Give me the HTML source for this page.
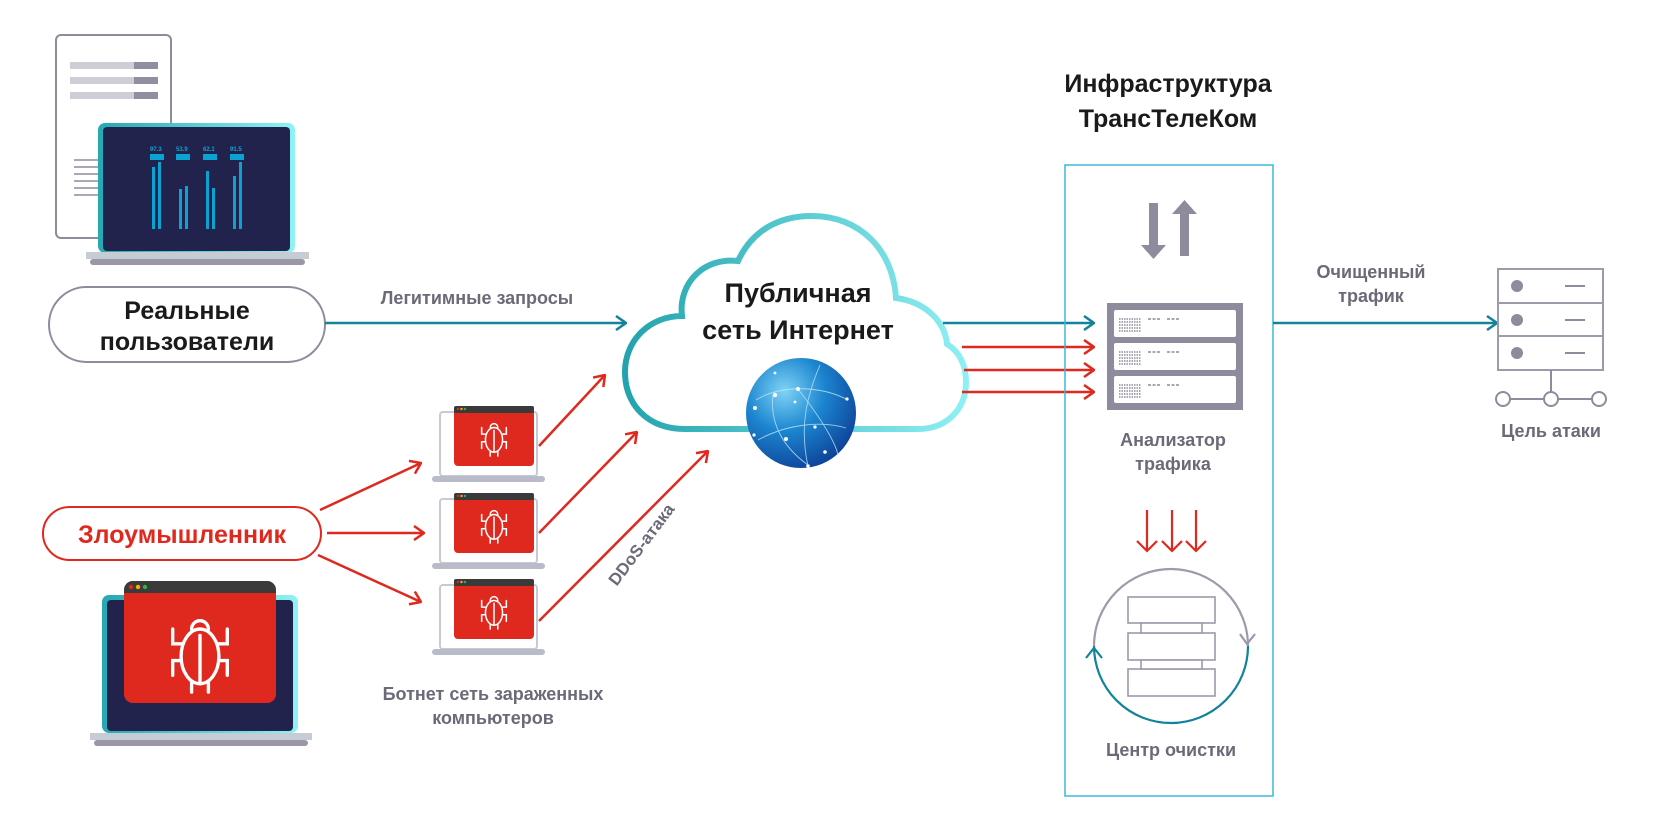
<!DOCTYPE html>
<html><head><meta charset="utf-8"><style>
html,body{margin:0;padding:0;background:#fff;}
svg{display:block;}
text{font-family:"Liberation Sans","Noto Sans CJK SC",sans-serif;font-weight:bold;}
</style></head><body>
<svg width="1680" height="824" viewBox="0 0 1680 824" xmlns="http://www.w3.org/2000/svg">
<defs>
<linearGradient id="cg" x1="0" x2="1" y1="0" y2="0"><stop offset="0" stop-color="#23a3ad"/><stop offset="1" stop-color="#8ef0f4"/></linearGradient>
<linearGradient id="lg" x1="0" x2="1"><stop offset="0" stop-color="#26a7b4"/><stop offset="1" stop-color="#8ff3f6"/></linearGradient>
<radialGradient id="gl" cx="0.35" cy="0.3" r="0.8"><stop offset="0" stop-color="#7fd3f5"/><stop offset="0.45" stop-color="#1c86d0"/><stop offset="1" stop-color="#0c3a92"/></radialGradient>
<marker id="at" viewBox="0 0 12 16" refX="11" refY="8" markerWidth="12" markerHeight="16" markerUnits="userSpaceOnUse" orient="auto"><path d="M1 1 L11 8 L1 15" fill="none" stroke="#13829b" stroke-width="2.5"/></marker>
<marker id="ar" viewBox="0 0 12 16" refX="11" refY="8" markerWidth="12" markerHeight="16" markerUnits="userSpaceOnUse" orient="auto"><path d="M1 1 L11 8 L1 15" fill="none" stroke="#e0291e" stroke-width="2.5"/></marker>
<g id="bug" fill="none" stroke="#fff" stroke-width="1.6" stroke-linecap="round">
<ellipse cx="0" cy="4" rx="9" ry="13"/><path d="M-4 -9 a4 4 0 0 1 8 0"/><path d="M0 -6 V17"/>
<path d="M-9 -2 H-13 V-9 M9 -2 H13 V-9 M-9 6 H-13 V13 M9 6 H13 V13 M-4 16 V21 M4 16 V21"/>
</g>
<g id="bot">
<rect x="0" y="0" width="97" height="64" rx="3" fill="#fff" stroke="#c7cad4" stroke-width="2"/>
<rect x="-8" y="64" width="113" height="6" rx="3" fill="#b9bcc8"/>
<rect x="14" y="-6" width="80" height="60" rx="4" fill="#e0291e"/>
<rect x="14" y="-6" width="80" height="7" rx="2" fill="#3a3a3a"/>
<circle cx="18" cy="-3" r="1.2" fill="#e0291e"/><circle cx="21.5" cy="-3" r="1.2" fill="#f0b400"/><circle cx="25" cy="-3" r="1.2" fill="#2db24a"/>
<use href="#bug" transform="translate(54,24) scale(0.95)"/>
</g>
</defs>

<!-- document sheet -->
<rect x="56" y="35" width="115" height="203" rx="5" fill="#fff" stroke="#8e8c9c" stroke-width="2"/>
<g fill="#cfcdd6"><rect x="70" y="62" width="64" height="7"/><rect x="70" y="77" width="64" height="7"/><rect x="70" y="92" width="64" height="7"/></g>
<g fill="#908ea0"><rect x="134" y="62" width="24" height="7"/><rect x="134" y="77" width="24" height="7"/><rect x="134" y="92" width="24" height="7"/></g>
<g stroke="#8e8c9c" stroke-width="1.5"><path d="M74 160H100M74 167H100M74 174H100M74 181H100M74 188H100M74 195H100"/></g>
<!-- top laptop -->
<rect x="98" y="123" width="197" height="130" rx="7" fill="url(#lg)"/>
<rect x="103" y="127" width="187" height="124" rx="4" fill="#22234c"/>
<rect x="86" y="252" width="223" height="7" fill="#c6ccd4"/>
<rect x="90" y="259" width="215" height="6" rx="3" fill="#9a98a8"/>
<g fill="#0aa3d4">
<rect x="150" y="154" width="14" height="6"/><rect x="176" y="154" width="14" height="6"/><rect x="203" y="154" width="14" height="6"/><rect x="230" y="154" width="14" height="6"/>
<rect x="152" y="167" width="3" height="62"/><rect x="158" y="162" width="3" height="67"/>
<rect x="179" y="189" width="3" height="40"/><rect x="185" y="186" width="3" height="43"/>
<rect x="206" y="171" width="3" height="58"/><rect x="212" y="188" width="3" height="41"/>
<rect x="233" y="176" width="3" height="53"/><rect x="239" y="162" width="3" height="67"/>
</g>
<g fill="#0aa3d4" font-size="6" font-weight="normal"><text x="150" y="151">97.3</text><text x="176" y="151">53.9</text><text x="203" y="151">62.1</text><text x="230" y="151">91.5</text></g>

<!-- real users pill -->
<rect x="49" y="287" width="276" height="75" rx="37.5" fill="#fff" stroke="#8e8c9c" stroke-width="2"/>
<text x="187" y="319" text-anchor="middle" font-size="25" fill="#1a1a1a">Реальные</text>
<text x="187" y="350" text-anchor="middle" font-size="25" fill="#1a1a1a">пользователи</text>
<text x="477" y="304" text-anchor="middle" font-size="18" fill="#6b6a78">Легитимные запросы</text>
<line x1="325" y1="323" x2="626" y2="323" stroke="#13829b" stroke-width="2.5" marker-end="url(#at)"/>

<!-- attacker pill -->
<rect x="43" y="507" width="278" height="53" rx="26.5" fill="#fff" stroke="#e0291e" stroke-width="2"/>
<text x="182" y="543" text-anchor="middle" font-size="25" fill="#e0291e">Злоумышленник</text>
<g stroke="#e0291e" stroke-width="2.5" fill="none">
<line x1="320" y1="510" x2="421" y2="463" marker-end="url(#ar)"/>
<line x1="327" y1="533" x2="424" y2="533" marker-end="url(#ar)"/>
<line x1="318" y1="555" x2="421" y2="602" marker-end="url(#ar)"/>
<line x1="539" y1="446" x2="605" y2="375" marker-end="url(#ar)"/>
<line x1="539" y1="533" x2="637" y2="432" marker-end="url(#ar)"/>
<line x1="539" y1="621" x2="708" y2="451" marker-end="url(#ar)"/>
</g>

<!-- attacker laptop -->
<rect x="102" y="595" width="196" height="138" rx="7" fill="url(#lg)"/>
<rect x="107" y="600" width="186" height="131" rx="4" fill="#22234c"/>
<rect x="90" y="733" width="222" height="7" fill="#c6ccd4"/>
<rect x="94" y="740" width="214" height="6" rx="3" fill="#9a98a8"/>
<rect x="124" y="581" width="152" height="122" rx="9" fill="#e0291e"/>
<path d="M124 593 V590 a9 9 0 0 1 9 -9 H267 a9 9 0 0 1 9 9 V593 Z" fill="#3a3a3a"/>
<circle cx="131" cy="587" r="2.2" fill="#e0291e"/><circle cx="138" cy="587" r="2.2" fill="#f0b400"/><circle cx="145" cy="587" r="2.2" fill="#2db24a"/>
<use href="#bug" transform="translate(200,648) scale(2.1)"/>

<!-- bots -->
<use href="#bot" transform="translate(440,412)"/>
<use href="#bot" transform="translate(440,499)"/>
<use href="#bot" transform="translate(440,585)"/>
<text x="493" y="700" text-anchor="middle" font-size="18" fill="#6b6a78">Ботнет сеть зараженных</text>
<text x="493" y="724" text-anchor="middle" font-size="18" fill="#6b6a78">компьютеров</text>
<text transform="translate(646,548) rotate(-53)" text-anchor="middle" font-size="17" fill="#6b6a78">DDoS-атака</text>

<!-- cloud -->
<path d="M685 429 C648 429 625 405 625 372 C625 340 650 316 682 316 C678 283 704 257 738 261 C752 231 778 216 812 216 C860 216 893 250 896 298 C926 302 945 322 947 344 C960 352 966 366 966 382 C966 410 946 429 918 429 Z" fill="#fff" stroke="url(#cg)" stroke-width="6"/>
<text x="798" y="302" text-anchor="middle" font-size="27" fill="#1a1a1a">Публичная</text>
<text x="798" y="339" text-anchor="middle" font-size="27" fill="#1a1a1a">сеть Интернет</text>
<circle cx="801" cy="413" r="55" fill="url(#gl)"/>
<g fill="none" stroke="#bfe6fb" stroke-width="0.9" opacity="0.8">
<path d="M756 400 C780 385 820 385 848 400"/><path d="M758 440 C785 425 820 420 846 428"/><path d="M773 395 C770 420 780 445 808 465"/><path d="M797 388 C815 410 835 440 838 455"/><path d="M820 365 C805 400 800 430 808 466"/>
</g>
<g fill="#fff"><circle cx="775" cy="395" r="2.2"/><circle cx="798" cy="389" r="2"/><circle cx="755" cy="408" r="2"/><circle cx="786" cy="439" r="2"/><circle cx="815" cy="427" r="1.6"/><circle cx="847" cy="399" r="1.6"/><circle cx="825" cy="452" r="1.8"/><circle cx="808" cy="466" r="1.8"/><circle cx="754" cy="435" r="1.6"/><circle cx="795" cy="402" r="1.4"/><circle cx="775" cy="373" r="1.4"/></g>

<!-- cloud to analyzer -->
<line x1="943" y1="323" x2="1094" y2="323" stroke="#13829b" stroke-width="2.5" marker-end="url(#at)"/>
<g stroke="#e0291e" stroke-width="2.5">
<line x1="962" y1="347" x2="1094" y2="347" marker-end="url(#ar)"/>
<line x1="964" y1="370" x2="1094" y2="370" marker-end="url(#ar)"/>
<line x1="962" y1="392" x2="1094" y2="392" marker-end="url(#ar)"/>
</g>

<!-- infra box -->
<text x="1168" y="92" text-anchor="middle" font-size="25" fill="#1a1a1a">Инфраструктура</text>
<text x="1168" y="127" text-anchor="middle" font-size="25" fill="#1a1a1a">ТрансТелеКом</text>
<rect x="1065" y="165" width="208" height="631" fill="none" stroke="#3bb8d8" stroke-width="1.5"/>
<g fill="#8e8c9c">
<path d="M1149 203 H1158 V245 H1166 L1153.5 259 L1141 245 H1149 Z"/>
<path d="M1180 256 H1189 V214 H1197 L1184.5 200 L1172 214 H1180 Z"/>
</g>
<!-- analyzer server -->
<rect x="1107" y="303" width="136" height="107" fill="#8e8c9c"/>
<g fill="#fff"><rect x="1114" y="310" width="122" height="27" rx="2"/><rect x="1114" y="343" width="122" height="27" rx="2"/><rect x="1114" y="376" width="122" height="27" rx="2"/></g>
<g stroke="#8e8c9c" stroke-width="1.5" stroke-dasharray="1.5 1">
<path d="M1119 319H1141M1119 322H1141M1119 325H1141M1119 328H1141M1119 331H1141"/>
<path d="M1119 352H1141M1119 355H1141M1119 358H1141M1119 361H1141M1119 364H1141"/>
<path d="M1119 385H1141M1119 388H1141M1119 391H1141M1119 394H1141M1119 397H1141"/>
<path d="M1148 319H1160M1167 319H1179M1148 352H1160M1167 352H1179M1148 385H1160M1167 385H1179" stroke-dasharray="3 1.5"/>
</g>
<text x="1173" y="446" text-anchor="middle" font-size="18" fill="#6b6a78">Анализатор</text>
<text x="1173" y="470" text-anchor="middle" font-size="18" fill="#6b6a78">трафика</text>
<g stroke="#e0291e" stroke-width="2.2" fill="none">
<path d="M1147 510 V551 M1137 541 L1147 551 L1157 541"/>
<path d="M1172 510 V551 M1162 541 L1172 551 L1182 541"/>
<path d="M1196 510 V551 M1186 541 L1196 551 L1206 541"/>
</g>
<!-- cleaning cycle -->
<path d="M1094 646 A77 77 0 0 1 1248 646" fill="none" stroke="#9c9aab" stroke-width="2.2"/>
<path d="M1248 646 A77 77 0 0 1 1094 646" fill="none" stroke="#13829b" stroke-width="2.2"/>
<path d="M1240 634 L1247 644 L1255 634" fill="none" stroke="#9c9aab" stroke-width="2.2"/>
<path d="M1086 658 L1094 648 L1102 658" fill="none" stroke="#13829b" stroke-width="2.2"/>
<g fill="#fff" stroke="#9c9aab" stroke-width="1.6">
<rect x="1128" y="597" width="87" height="26"/><rect x="1128" y="633" width="87" height="27"/><rect x="1128" y="669" width="87" height="27"/>
<rect x="1141" y="623" width="61" height="10"/><rect x="1141" y="660" width="61" height="9"/>
</g>
<text x="1171" y="756" text-anchor="middle" font-size="18" fill="#6b6a78">Центр очистки</text>

<!-- output -->
<line x1="1273" y1="323" x2="1497" y2="323" stroke="#13829b" stroke-width="2.5" marker-end="url(#at)"/>
<text x="1371" y="278" text-anchor="middle" font-size="18" fill="#6b6a78">Очищенный</text>
<text x="1371" y="302" text-anchor="middle" font-size="18" fill="#6b6a78">трафик</text>
<g fill="#fff" stroke="#9c9aab" stroke-width="2">
<rect x="1498" y="269" width="105" height="34"/><rect x="1498" y="303" width="105" height="33"/><rect x="1498" y="336" width="105" height="34"/>
</g>
<g fill="#8e8c9c"><circle cx="1517" cy="286" r="6"/><circle cx="1517" cy="320" r="6"/><circle cx="1517" cy="353" r="6"/></g>
<g stroke="#8e8c9c" stroke-width="2"><path d="M1565 286H1585M1565 320H1585M1565 353H1585M1551 370V392M1509 399H1544M1558 399H1593"/></g>
<g fill="#fff" stroke="#8e8c9c" stroke-width="2"><circle cx="1503" cy="399" r="7"/><circle cx="1551" cy="399" r="7"/><circle cx="1599" cy="399" r="7"/></g>
<text x="1551" y="437" text-anchor="middle" font-size="18" fill="#6b6a78">Цель атаки</text>
</svg>
</body></html>
